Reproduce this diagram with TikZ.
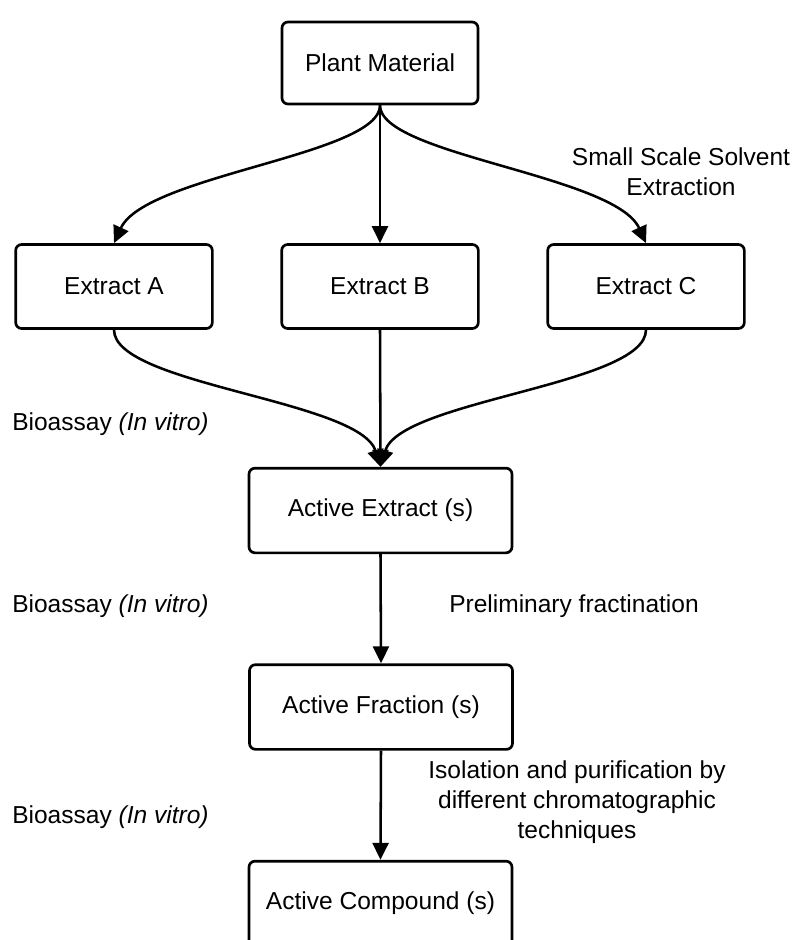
\documentclass[tikz,border=0pt]{standalone}
\usepackage{fontspec}
\setmainfont{Liberation Sans}
\usetikzlibrary{arrows.meta}
\begin{document}
\begin{tikzpicture}[x=0.75pt,y=-0.75pt,
  box/.style={draw, line width=2pt, rounded corners=4.5pt, align=center, inner sep=0pt, fill=white},
  smallbox/.style={box, minimum width=147.5pt, minimum height=63pt},
  widebox/.style={box, minimum width=197.25pt, minimum height=63.5pt},
  flow/.style={line width=1.9pt, -{Triangle[length=12.75pt,width=12pt]}},
  lbl/.style={align=center, inner sep=0pt},
  font=\fontsize{18.4}{22.5}\selectfont]
\clip (0,0) rectangle (794,940);
\fill[white] (0,0) rectangle (794,940);
% boxes
\node[box, minimum width=147pt, minimum height=61.5pt] (plant) at (380,63) {Plant Material};
\node[smallbox] (exA) at (114,286.5) {Extract A};
\node[smallbox] (exB) at (380,286.5) {Extract B};
\node[smallbox] (exC) at (646,286.5) {Extract C};
\node[widebox] (aext) at (380.5,510.5) {Active Extract (s)};
\node[widebox] (afrac) at (381,707) {Active Fraction (s)};
\node[widebox] (acomp) at (380.5,903.5) {Active Compound (s)};
% connectors
\draw[flow] (plant.south) .. controls (380,155) and (145,175) .. (exA.north);
\draw[flow] (plant.south) -- (exB.north);
\draw[flow] (plant.south) .. controls (380,155) and (615,175) .. (exC.north);
\draw[flow] (exA.south) .. controls (114,385) and (360,400) .. (aext.north);
\draw[flow] (exB.south) -- (aext.north);
\draw[flow] (exC.south) .. controls (646,385) and (400,400) .. (aext.north);
\draw[flow] (aext.south) -- (afrac.north);
\draw[flow] (afrac.south) -- (acomp.north);
% labels
\node[lbl] (lsolv) at (681,172) {Small Scale Solvent\\Extraction};
\node[lbl, anchor=west] (lbio1) at (12,424) {Bioassay \textit{(In vitro)}};
\node[lbl, anchor=west] (lbio2) at (12,606) {Bioassay \textit{(In vitro)}};
\node[lbl, anchor=west] (lbio3) at (12,817) {Bioassay \textit{(In vitro)}};
\node[lbl, anchor=west] (lprel) at (449,606) {Preliminary fractination};
\node[lbl] (liso) at (577,802) {Isolation and purification by\\different chromatographic\\techniques};
\end{tikzpicture}
\end{document}
